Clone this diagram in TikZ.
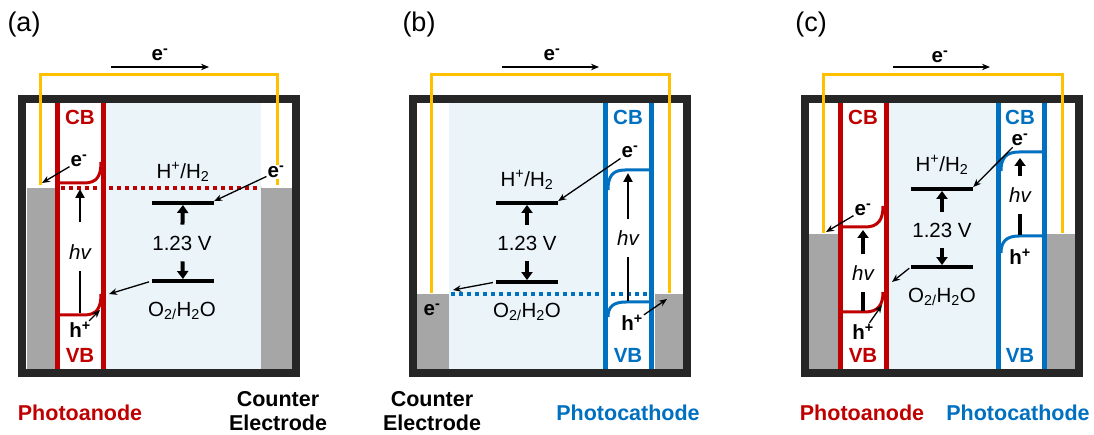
\documentclass[tikz,border=0pt]{standalone}
\usepackage{fontspec}
\setmainfont{Liberation Sans}
\usetikzlibrary{arrows.meta}
\definecolor{frame}{HTML}{262626}
\definecolor{anode}{HTML}{C00000}
\definecolor{cathode}{HTML}{0070C0}
\definecolor{gold}{HTML}{FFC000}
\definecolor{metal}{HTML}{A6A6A6}
\definecolor{water}{HTML}{EAF4F9}

\begin{document}
\begin{tikzpicture}[x=1pt, y=-1pt,
  cellwall/.style={draw=frame, line width=8pt},
  circuit/.style={draw=gold, line width=3pt},
  bandline/.style={line width=5pt},
  bandedge/.style={line width=3pt},
  dotline/.style={line width=4pt, dash pattern=on 4pt off 4pt},
  level/.style={fill=black, minimum width=62pt, minimum height=3.5pt, inner sep=0pt},
  eqtxt/.style={font=\fontsize{20.5}{24}\selectfont, inner sep=0pt},
  chargetxt/.style={font=\fontsize{20.5}{24}\selectfont\bfseries, inner sep=1pt},
  bandtxt/.style={font=\fontsize{20.5}{24}\selectfont\bfseries, inner sep=1pt},
  hvtxt/.style={font=\fontsize{20.5}{24}\selectfont\itshape, inner xsep=0pt, inner ysep=11pt},
  captxt/.style={font=\fontsize{21.5}{24}\selectfont\bfseries, align=center, inner sep=1pt},
  paneltxt/.style={font=\fontsize{27}{30}\selectfont},
  thinarrow/.style={line width=1.3pt, -{Stealth[length=8pt, width=6.5pt]}},
  bigarrow/.style={line width=4pt, -{Triangle[length=8pt, width=11pt]}, shorten <=11pt},
  photon/.style={line width=2.5pt},
]
\useasboundingbox[fill=white] (0,0) rectangle (1094,435);

% ---------------- (a) photoanode + counter electrode
\fill[water] (104,103) rectangle (261,369);
\fill[metal] (27,188) rectangle (55,369);
\fill[metal] (261,188) rectangle (292,369);
\draw[bandline, anode] (57,99) -- (57,373);
\draw[bandline, anode] (103.5,99) -- (103.5,373);
\draw[bandedge, anode] (59,183) -- (84,183) .. controls (97,183) and (101,176) .. (101,162);
\draw[bandedge, anode] (59,315) -- (84,315) .. controls (97,315) and (101,308) .. (101,294);
\draw[dotline, anode] (61,188) -- (261,188);
\draw[cellwall] (22,99) rectangle (296,373);
\draw[circuit] (40,185) -- (40,75) -- (277,75) -- (277,185);

\node[paneltxt] (alabel) at (24,25) {(a)};
\node[chargetxt] (aetop) at (160,55) {e\textsuperscript{-}};
\coordinate (aflowL) at (111,67);
\coordinate (aflowR) at (209,67);
\draw[thinarrow] (aflowL) -- (aflowR);

\node[bandtxt, text=anode] (aCB) at (80,117) {CB};
\node[bandtxt, text=anode] (aVB) at (80,355) {VB};
\node[chargetxt] (aeCB) at (79,161) {e\textsuperscript{-}};
\node[chargetxt] (ahVB) at (80,330) {h\textsuperscript{+}};
\node[hvtxt] (ahv) at (80,252) {hv};
\node[eqtxt] (aHlab) at (183,172) {H\textsuperscript{+}/H\textsubscript{2}};
\node[level] (aHbar) at (183,203) {};
\node[eqtxt] (aV) at (182,243) {1.23 V};
\node[level] (aObar) at (183,281) {};
\node[eqtxt] (aOlab) at (182,311) {O\textsubscript{2/}H\textsubscript{2}O};
\node[chargetxt, fill=white] (aeCE) at (276,172) {e\textsuperscript{-}};
\node[captxt, text=anode] (aPA) at (80,413) {Photoanode};
\node[captxt] (aCE) at (278,411) {Counter\\Electrode};

\coordinate (awire) at (42,183);
\coordinate (aband) at (109,294);
\coordinate (aVBedge) at (100,310);
\coordinate (aVBtop) at (80,313);
\coordinate (aCBbot) at (80,189);
\draw[thinarrow] (aeCB) -- (awire);
\draw[thinarrow] (aeCE) -- (aHbar.north east);
\draw[thinarrow, shorten <=3pt] (aObar.west) -- (aband);
\draw[thinarrow] (ahVB) -- (aVBedge);
\draw[bigarrow] (aV) -- (aHbar);
\draw[bigarrow] (aV) -- (aObar);
\draw[photon] (aVBtop) -- (ahv);
\draw[photon, -{Triangle[length=9pt, width=9pt]}, shorten <=11pt] (ahv) -- (aCBbot);

% ---------------- (b) counter electrode + photocathode
\fill[water] (449,103) rectangle (603,369);
\fill[metal] (417,294) rectangle (449,369);
\fill[metal] (655,294) rectangle (683,369);
\draw[bandline, cathode] (605,99) -- (605,373);
\draw[bandline, cathode] (651,99) -- (651,373);
\draw[bandedge, cathode] (649,170) -- (625,170) .. controls (612,170) and (608,177) .. (608,190);
\draw[bandedge, cathode] (649,302) -- (626,302) .. controls (613,302) and (608,307) .. (608,317);
\draw[dotline, cathode] (451,294) -- (649,294);
\draw[cellwall] (413,99) rectangle (687,373);
\draw[circuit] (431,293) -- (431,75) -- (669,75) -- (669,293);

\node[paneltxt] (blabel) at (419,25) {(b)};
\node[chargetxt] (betop) at (552,55) {e\textsuperscript{-}};
\coordinate (bflowL) at (502,67);
\coordinate (bflowR) at (599,67);
\draw[thinarrow] (bflowL) -- (bflowR);

\node[bandtxt, text=cathode] (bCB) at (628,117) {CB};
\node[bandtxt, text=cathode] (bVB) at (628,355) {VB};
\node[chargetxt] (beCB) at (630,152) {e\textsuperscript{-}};
\node[chargetxt] (bhVB) at (632,323) {h\textsuperscript{+}};
\node[hvtxt] (bhv) at (628,238) {hv};
\node[eqtxt] (bHlab) at (527,180) {H\textsuperscript{+}/H\textsubscript{2}};
\node[level] (bHbar) at (527,203) {};
\node[eqtxt] (bV) at (527,243) {1.23 V};
\node[level] (bObar) at (527,282) {};
\node[eqtxt] (bOlab) at (527,312) {O\textsubscript{2/}H\textsubscript{2}O};
\node[chargetxt] (beCE) at (432,310) {e\textsuperscript{-}};
\node[captxt] (bCE) at (432,411) {Counter\\Electrode};
\node[captxt, text=cathode] (bPC) at (628,413) {Photocathode};

\coordinate (bgray) at (453,290);
\coordinate (bmetal) at (667,299);
\coordinate (bVBtop) at (628,301);
\coordinate (bCBbot) at (628,173);
\draw[thinarrow] (beCB) -- (bHbar.north east);
\draw[thinarrow, shorten <=3pt] (bObar.west) -- (bgray);
\draw[thinarrow] (bhVB) -- (bmetal);
\draw[bigarrow] (bV) -- (bHbar);
\draw[bigarrow] (bV) -- (bObar);
\draw[photon] (bVBtop) -- (bhv);
\draw[photon, -{Triangle[length=9pt, width=9pt]}] (bhv) -- (bCBbot);

% ---------------- (c) photoanode + photocathode (tandem)
\fill[water] (888,103) rectangle (996,369);
\fill[metal] (809,234) rectangle (838,369);
\fill[metal] (1046,234) rectangle (1075,369);
\draw[bandline, anode] (840,99) -- (840,373);
\draw[bandline, anode] (886,99) -- (886,373);
\draw[bandline, cathode] (998,99) -- (998,373);
\draw[bandline, cathode] (1044,99) -- (1044,373);
\draw[bandedge, anode] (842,227) -- (865,227) .. controls (878,227) and (883,220) .. (883,206);
\draw[bandedge, anode] (842,312) -- (865,312) .. controls (878,312) and (883,305) .. (883,292);
\draw[bandedge, cathode] (1042,152) -- (1019,152) .. controls (1006,152) and (1001,158) .. (1001,171);
\draw[bandedge, cathode] (1042,236) -- (1019,236) .. controls (1006,236) and (1001,242) .. (1001,253);
\draw[cellwall] (805,99) rectangle (1079,373);
\draw[circuit] (823,233) -- (823,75) -- (1062,75) -- (1062,233);

\node[paneltxt] (clabel) at (811,25) {(c)};
\node[chargetxt] (cetop) at (940,57) {e\textsuperscript{-}};
\coordinate (cflowL) at (893,67);
\coordinate (cflowR) at (990,67);
\draw[thinarrow] (cflowL) -- (cflowR);

\node[bandtxt, text=anode] (cCBa) at (863,117) {CB};
\node[bandtxt, text=anode] (cVBa) at (863,355) {VB};
\node[chargetxt] (ceCBa) at (863,210) {e\textsuperscript{-}};
\node[chargetxt] (chVBa) at (863,332) {h\textsuperscript{+}};
\node[hvtxt] (chva) at (863,273) {hv};
\node[bandtxt, text=cathode] (cCBc) at (1020,117) {CB};
\node[bandtxt, text=cathode] (cVBc) at (1020,355) {VB};
\node[chargetxt] (ceCBc) at (1020,140) {e\textsuperscript{-}};
\node[chargetxt] (chVBc) at (1020,257) {h\textsuperscript{+}};
\node[hvtxt] (chvc) at (1020,195) {hv};
\node[eqtxt] (cHlab) at (942,165) {H\textsuperscript{+}/H\textsubscript{2}};
\node[level] (cHbar) at (942,189) {};
\node[eqtxt] (cV) at (942,230) {1.23 V};
\node[level] (cObar) at (942,267) {};
\node[eqtxt] (cOlab) at (942,297) {O\textsubscript{2/}H\textsubscript{2}O};
\node[captxt, text=anode] (cPA) at (862,413) {Photoanode};
\node[captxt, text=cathode] (cPC) at (1018,413) {Photocathode};

\coordinate (cwire) at (826,232);
\coordinate (cband) at (892,282);
\coordinate (cVBedge) at (882,305);
\coordinate (cVBtopa) at (863,311);
\coordinate (cCBbota) at (863,230);
\coordinate (cVBtopc) at (1020,235);
\coordinate (cCBbotc) at (1020,158);
\draw[thinarrow] (ceCBa) -- (cwire);
\draw[thinarrow] (ceCBc) -- (cHbar.north east);
\draw[thinarrow, shorten <=2pt] (cObar.west) -- (cband);
\draw[thinarrow] (chVBa) -- (cVBedge);
\draw[bigarrow] (cV) -- (cHbar);
\draw[bigarrow] (cV) -- (cObar);
\draw[line width=4pt] (cVBtopa) -- (chva);
\draw[bigarrow, shorten <=0pt] (chva) -- (cCBbota);
\draw[line width=4pt] (cVBtopc) -- (chvc);
\draw[bigarrow, shorten <=0pt] (chvc) -- (cCBbotc);
\end{tikzpicture}
\end{document}
